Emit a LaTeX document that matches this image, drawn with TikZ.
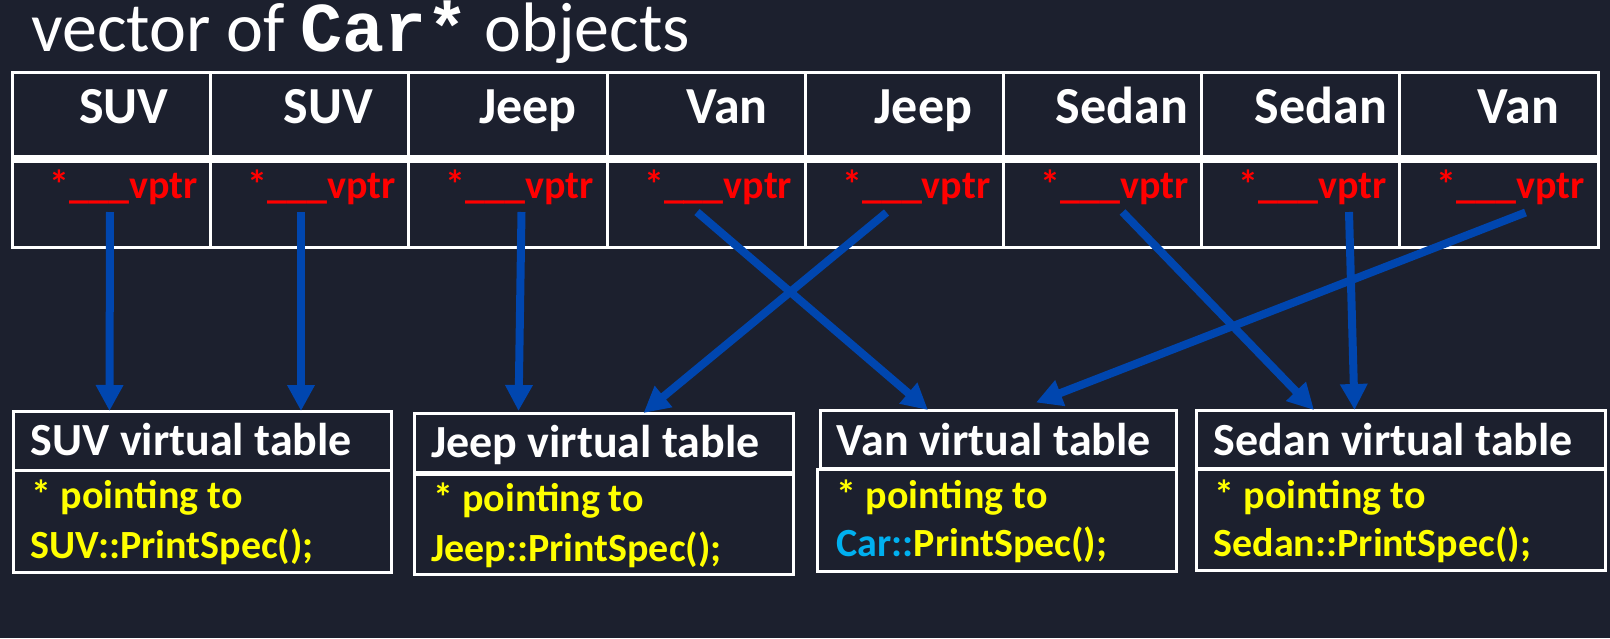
\documentclass[tikz,border=0pt]{standalone}
\usepackage{fontspec}
\setmainfont{Carlito}
\newfontfamily\codefont{Liberation Mono}
\usetikzlibrary{arrows.meta}
\definecolor{bg}{RGB}{28,32,46}
\definecolor{arrowblue}{RGB}{0,70,175}
\definecolor{carblue}{RGB}{0,176,240}
\definecolor{ptrred}{RGB}{255,0,0}
\definecolor{specyellow}{RGB}{255,255,0}
\tikzset{
  cellbox/.style={draw=white, line width=3pt, minimum width=198.2pt, inner sep=0pt, outer sep=0pt},
  hdrtext/.style={text=white, font=\fontsize{52}{60}\selectfont\bfseries, inner sep=0pt, anchor=base},
  ptrtext/.style={text=ptrred, font=\fontsize{40}{48}\selectfont\bfseries, inner sep=0pt, anchor=base east},
  vtbox/.style={draw=white, line width=3pt, inner sep=0pt, outer sep=0pt},
  vttitle/.style={text=white, font=\fontsize{46}{54}\selectfont\bfseries, inner sep=0pt, anchor=base west},
  vtbody/.style={text=specyellow, font=\fontsize{40}{48}\selectfont\bfseries, inner sep=0pt, anchor=base west},
  ptrarrow/.style={draw=arrowblue, line width=8pt, -{Triangle[length=26pt,width=26pt]}}
}
\begin{document}
\begin{tikzpicture}[x=1pt,y=-1pt]
\fill[bg] (0,0) rectangle (1610,638);
\useasboundingbox (0,0) rectangle (1610,638);

% title
\node[text=white, font=\fontsize{70}{80}\selectfont, inner sep=0pt, anchor=base west] (title) at (31,51.5)
  {vector of {\codefont\bfseries Car*} objects};

% table cells
\foreach \i in {1,...,8} {
  \node[cellbox, minimum height=87pt] (h\i) at ({12.5+198.2*(\i-0.5)},115.5) {};
  \node[cellbox, minimum height=88pt] (p\i) at ({12.5+198.2*(\i-0.5)},203) {};
}
\draw[white, line width=8pt] (h1.south west) -- (h8.south east);

% header labels
\foreach \i/\x/\t in {1/124/SUV,2/328.6/SUV,3/527.8/Jeep,4/727/Van,5/923.5/Jeep,6/1122/Sedan,7/1321/Sedan,8/1518.6/Van}
  \node[hdrtext] (hl\i) at (\x,123) {\t};

% vptr labels
\foreach \i in {1,...,8}
  \node[ptrtext] (pl\i) at ({12.5+198.2*\i-13},198) {*\_\_\_vptr};

% virtual tables
\node[vtbox, minimum width=378pt, minimum height=59pt] (suvT) at (202,440.5) {};
\node[vtbox, minimum width=378pt, minimum height=102pt] (suvB) at (202,521) {};
\node[vtbox, minimum width=379.5pt, minimum height=59pt] (jeepT) at (603.75,442.5) {};
\node[vtbox, minimum width=379.5pt, minimum height=100pt] (jeepB) at (603.75,524) {};
\node[vtbox, minimum width=356pt, minimum height=58pt] (vanT) at (998,439) {};
\node[vtbox, minimum width=359pt, minimum height=102pt] (vanB) at (996.5,520) {};
\node[vtbox, minimum width=409pt, minimum height=58pt] (sedT) at (1400.5,439) {};
\node[vtbox, minimum width=409pt, minimum height=101pt] (sedB) at (1400.5,519.5) {};

\node[vttitle] (suvTt) at (30.5,455) {SUV virtual table};
\node[vtbody] (suvL1) at (31.5,508.5) {* pointing to};
\node[vtbody] (suvL2) at (30.5,558.5) {SUV::PrintSpec();};

\node[vttitle] (jeepTt) at (431,457) {Jeep virtual table};
\node[vtbody] (jeepL1) at (433,511) {* pointing to};
\node[vtbody] (jeepL2) at (431,561) {Jeep::PrintSpec();};

\node[vttitle] (vanTt) at (836.5,455) {Van virtual table};
\node[vtbody] (vanL1) at (836.5,508.3) {* pointing to};
\node[vtbody] (vanL2) at (836.5,556.7) {{\color{carblue}Car::}PrintSpec();};

\node[vttitle] (sedTt) at (1213.5,455) {Sedan virtual table};
\node[vtbody] (sedL1) at (1214.5,508.3) {* pointing to};
\node[vtbody] (sedL2) at (1213.5,556.7) {Sedan::PrintSpec();};

% arrow starts
\coordinate (s1) at (110,212);
\coordinate (s2) at (301,212);
\coordinate (s3) at (521.5,212);
\coordinate (s4) at (697,212);
\coordinate (s5) at (886.5,212.5);
\coordinate (s6) at (1122.5,212);
\coordinate (s7) at (1349,212);
\coordinate (s8) at (1525.5,212.5);

\draw[ptrarrow] (s1) -- ([xshift=96.5pt]suvT.north west);
\draw[ptrarrow] (s2) -- ([xshift=288pt]suvT.north west);
\draw[ptrarrow] (s3) -- ([xshift=104.5pt,yshift=2pt]jeepT.north west);
\draw[ptrarrow] (s4) -- ([xshift=108pt]vanT.north west);
\draw[ptrarrow] (s5) -- ([xshift=229.5pt]jeepT.north west);
\draw[ptrarrow] (s6) -- ([xshift=118pt]sedT.north west);
\draw[ptrarrow] (s7) -- ([xshift=158.5pt]sedT.north west);
\draw[ptrarrow] (s8) -- ([xshift=216pt,yshift=7.5pt]vanT.north west);
\end{tikzpicture}
\end{document}
